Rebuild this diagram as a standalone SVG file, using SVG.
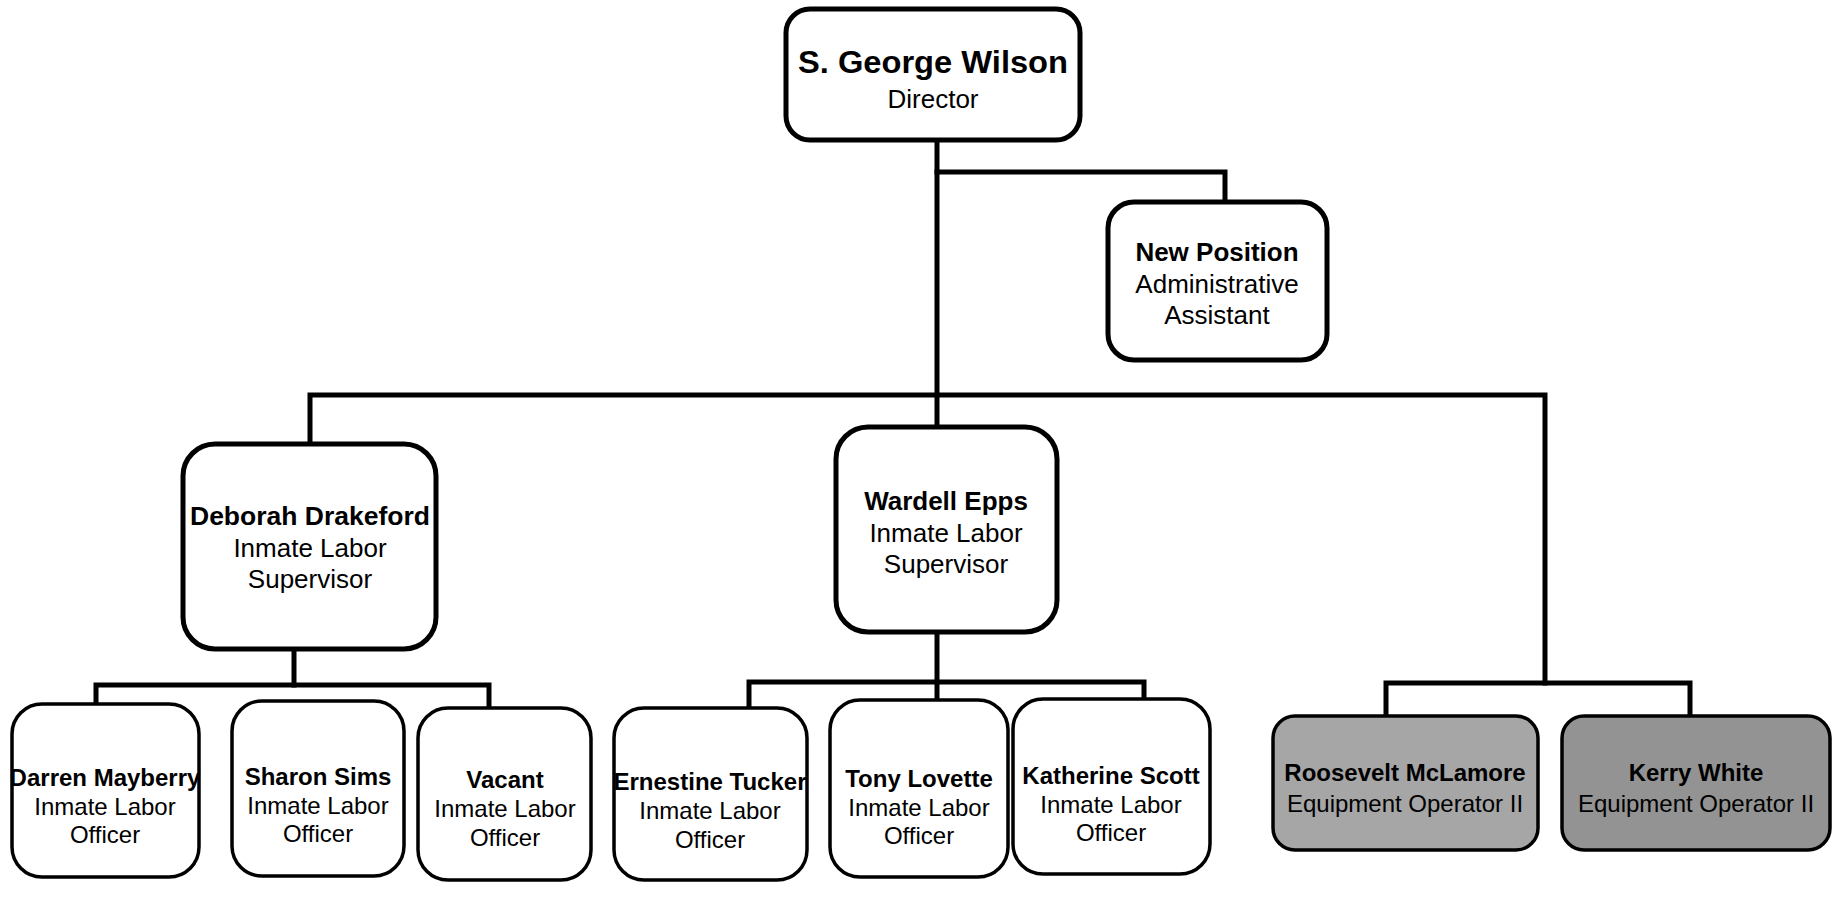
<svg xmlns="http://www.w3.org/2000/svg" width="1834" height="912" viewBox="0 0 1834 912">
<style>
.bg{fill:#ffffff}
.box{fill:#ffffff;stroke:#000;stroke-width:5}
.ofc{fill:#ffffff;stroke:#000;stroke-width:3.5}
.eq{stroke:#000;stroke-width:3.5}
.ln{fill:none;stroke:#000;stroke-width:5;stroke-linejoin:miter;stroke-linecap:square}
text{font-family:"Liberation Sans",Arial,Helvetica,sans-serif;fill:#000;text-anchor:middle}
.b{font-weight:bold}
.t26{font-size:26px}
.t24{font-size:24px}
</style>
<rect class="bg" x="0" y="0" width="1834" height="912"/>
<g id="connectors">
<path class="ln" d="M937,140 V427"/>
<path class="ln" d="M937,172 H1225 V202"/>
<path class="ln" d="M310,444 V395 H1545 V683"/>
<path class="ln" d="M294,649 V685"/>
<path class="ln" d="M96,704 V685 H489 V708"/>
<path class="ln" d="M937,632 V700"/>
<path class="ln" d="M749,708 V682 H1144 V700"/>
<path class="ln" d="M1386,716 V683 H1690 V716"/>
</g>
<g id="director">
<rect class="box" x="786" y="9" width="294" height="131" rx="24"/>
<text class="b" x="933" y="73" font-size="31" textLength="270" lengthAdjust="spacingAndGlyphs">S. George Wilson</text>
<text class="t26" x="933" y="108">Director</text>
</g>
<g id="new-position">
<rect class="box" x="1108" y="202" width="219" height="158" rx="26"/>
<text class="b t26" x="1217" y="261">New Position</text>
<text class="t26" x="1217" y="293">Administrative</text>
<text class="t26" x="1217" y="324">Assistant</text>
</g>
<g id="deborah-drakeford">
<rect class="box" x="183" y="444" width="253" height="205" rx="32"/>
<text class="b t26" x="310" y="525" textLength="240" lengthAdjust="spacingAndGlyphs">Deborah Drakeford</text>
<text class="t26" x="310" y="557">Inmate Labor</text>
<text class="t26" x="310" y="588">Supervisor</text>
</g>
<g id="wardell-epps">
<rect class="box" x="836" y="427" width="221" height="205" rx="32"/>
<text class="b t26" x="946" y="510">Wardell Epps</text>
<text class="t26" x="946" y="542">Inmate Labor</text>
<text class="t26" x="946" y="573">Supervisor</text>
</g>
<g id="darren-mayberry">
<rect class="ofc" x="12" y="704" width="187" height="173" rx="30"/>
<text class="b t24" x="105" y="786">Darren Mayberry</text>
<text class="t24" x="105" y="815">Inmate Labor</text>
<text class="t24" x="105" y="843">Officer</text>
</g>
<g id="sharon-sims">
<rect class="ofc" x="232" y="701" width="172" height="175" rx="30"/>
<text class="b t24" x="318" y="785">Sharon Sims</text>
<text class="t24" x="318" y="814">Inmate Labor</text>
<text class="t24" x="318" y="842">Officer</text>
</g>
<g id="vacant">
<rect class="ofc" x="418" y="708" width="173" height="172" rx="30"/>
<text class="b t24" x="505" y="788">Vacant</text>
<text class="t24" x="505" y="817">Inmate Labor</text>
<text class="t24" x="505" y="846">Officer</text>
</g>
<g id="ernestine-tucker">
<rect class="ofc" x="614" y="708" width="193" height="172" rx="30"/>
<text class="b t24" x="710" y="790">Ernestine Tucker</text>
<text class="t24" x="710" y="819">Inmate Labor</text>
<text class="t24" x="710" y="848">Officer</text>
</g>
<g id="tony-lovette">
<rect class="ofc" x="830" y="700" width="178" height="177" rx="30"/>
<text class="b t24" x="919" y="787">Tony Lovette</text>
<text class="t24" x="919" y="816">Inmate Labor</text>
<text class="t24" x="919" y="844">Officer</text>
</g>
<g id="katherine-scott">
<rect class="ofc" x="1013" y="699" width="197" height="175" rx="30"/>
<text class="b t24" x="1111" y="784">Katherine Scott</text>
<text class="t24" x="1111" y="813">Inmate Labor</text>
<text class="t24" x="1111" y="841">Officer</text>
</g>
<g id="roosevelt-mclamore">
<rect class="eq" x="1273" y="716" width="265" height="134" rx="22" fill="#a6a6a6"/>
<text class="b t24" x="1405" y="781">Roosevelt McLamore</text>
<text class="t24" x="1405" y="812">Equipment Operator II</text>
</g>
<g id="kerry-white">
<rect class="eq" x="1562" y="716" width="268" height="134" rx="22" fill="#939393"/>
<text class="b t24" x="1696" y="781">Kerry White</text>
<text class="t24" x="1696" y="812">Equipment Operator II</text>
</g>
</svg>
